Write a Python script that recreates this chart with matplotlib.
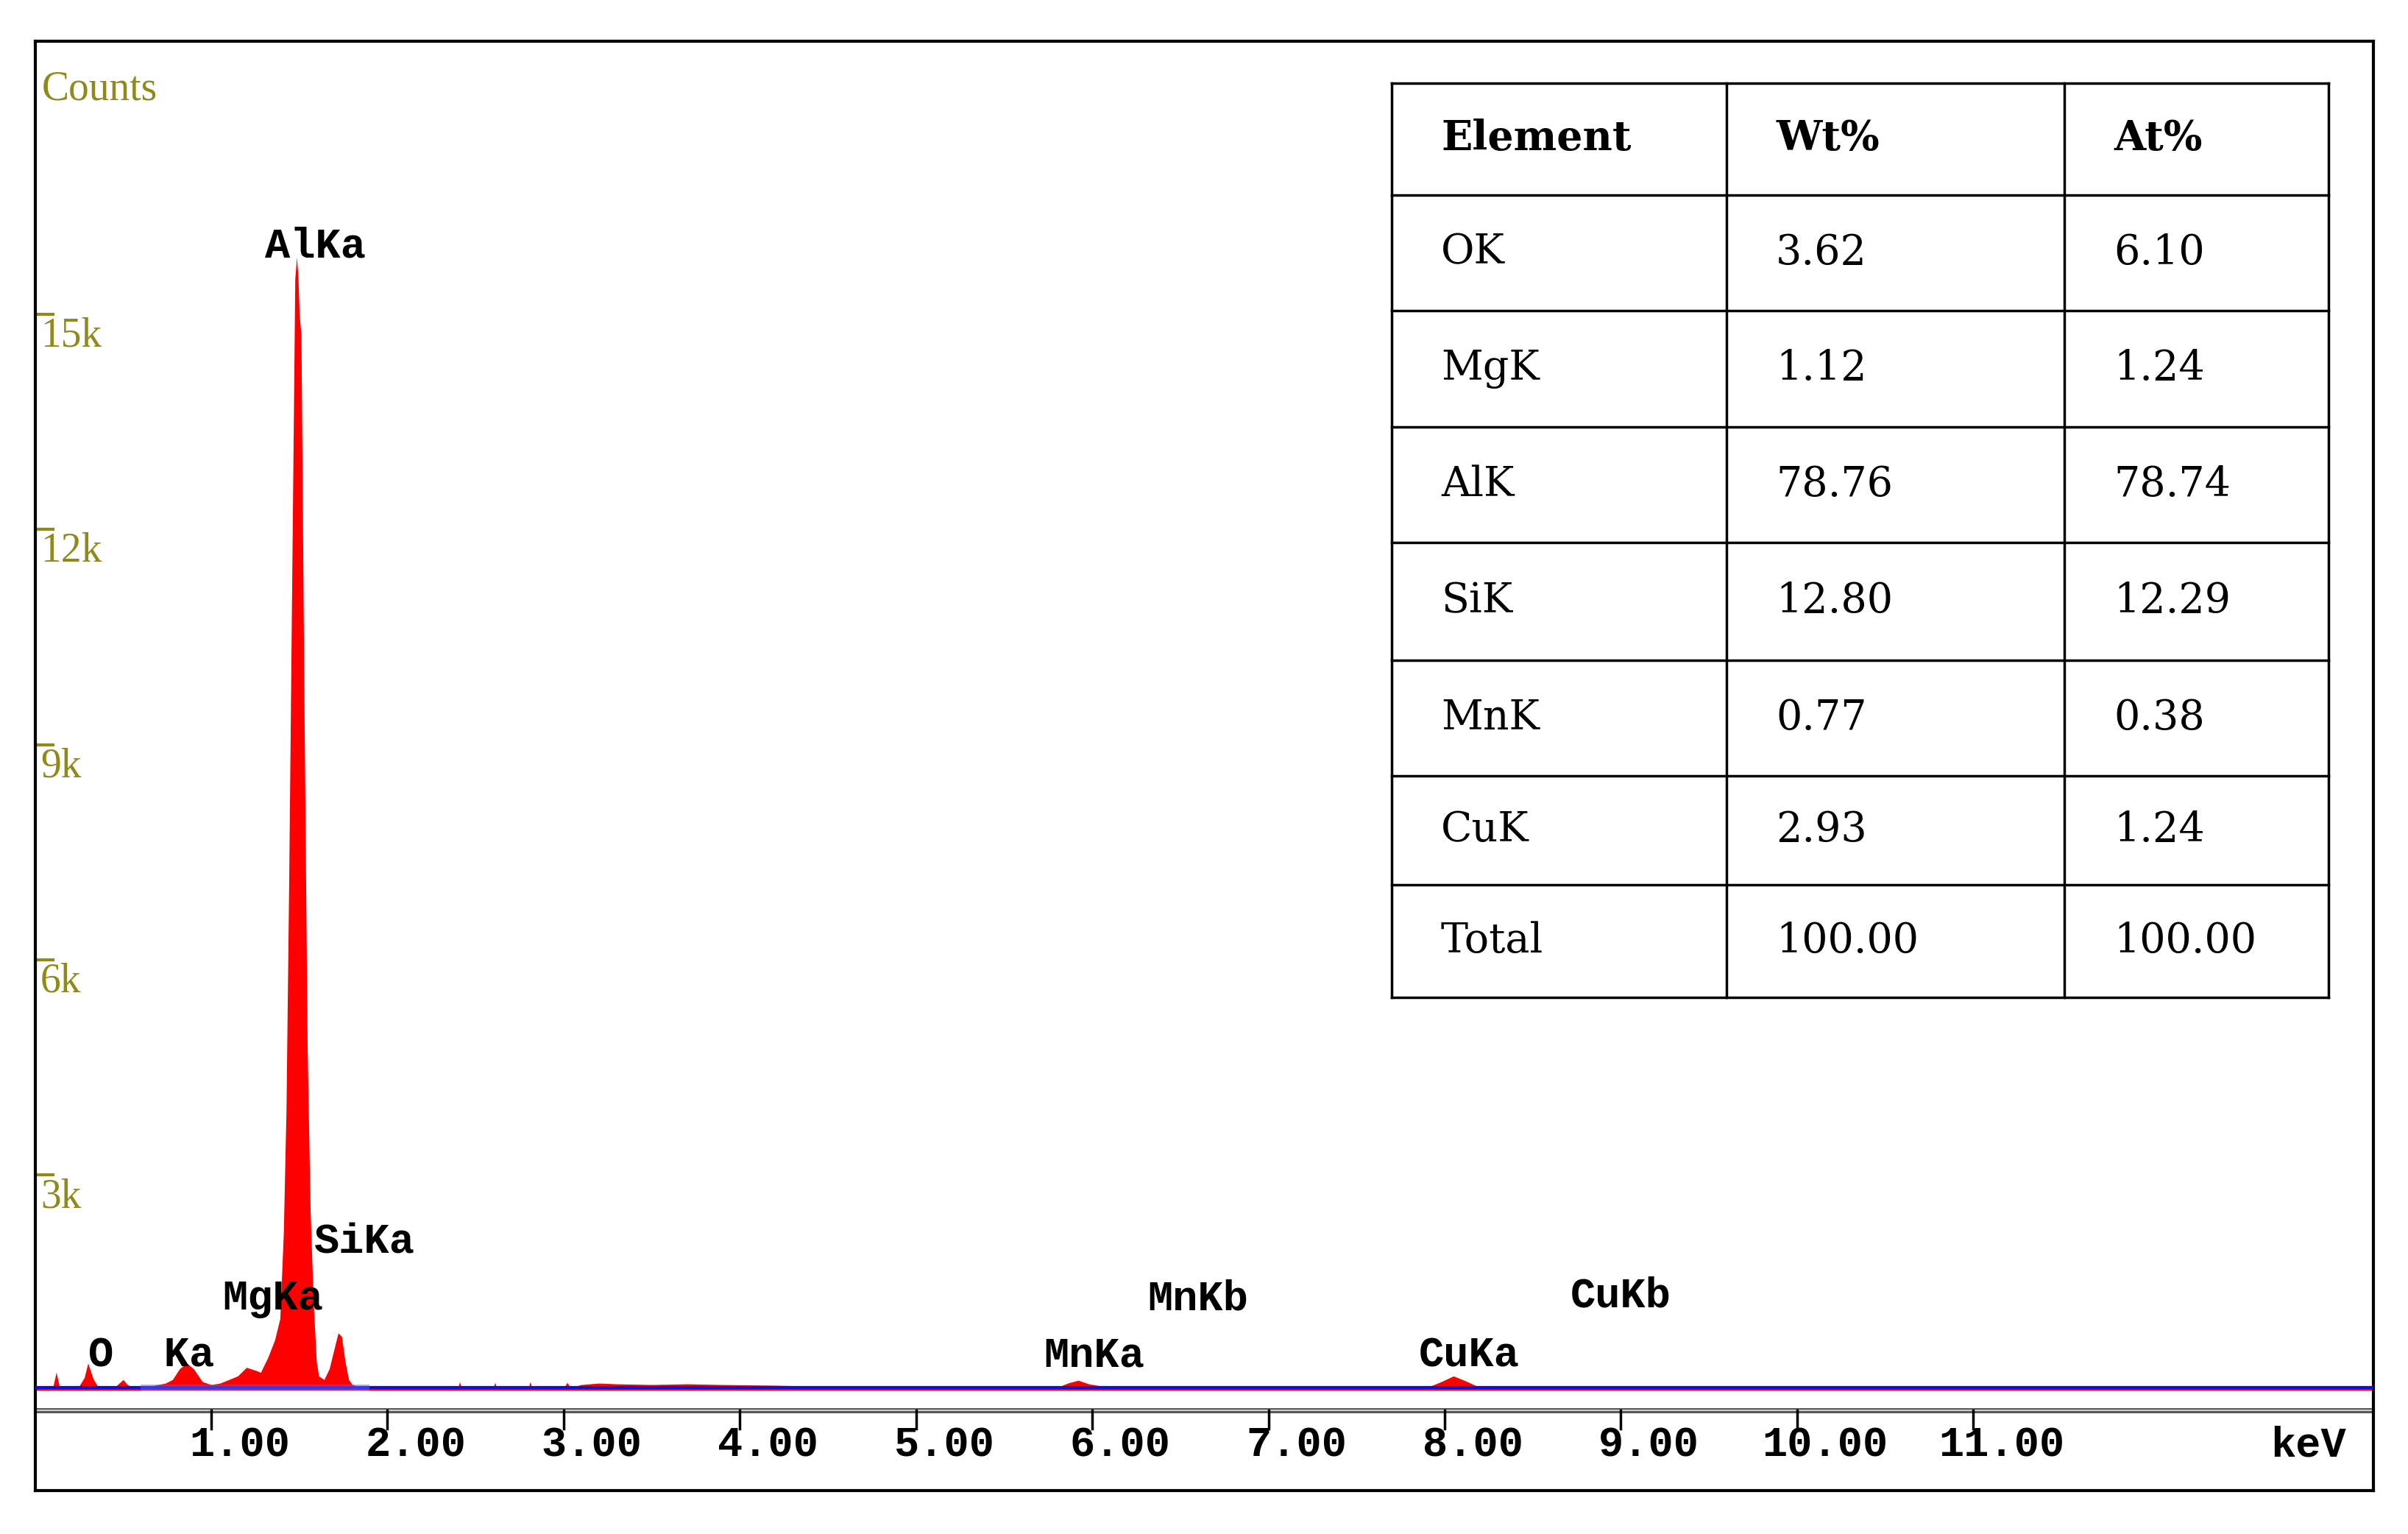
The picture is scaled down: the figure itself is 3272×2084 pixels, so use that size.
import matplotlib
matplotlib.use("Agg")
import matplotlib.pyplot as plt
import numpy as np

# spectrum (keV, counts)
energy = [0.00, 0.10, 0.12, 0.14, 0.20, 0.25, 0.28, 0.30, 0.33, 0.36, 0.40, 0.45, 0.50, 0.52, 0.55, 0.58,
          0.62, 0.66, 0.70, 0.74, 0.78, 0.82, 0.86, 0.90, 0.95, 1.00, 1.05, 1.10, 1.15, 1.20, 1.25, 1.28,
          1.32, 1.36, 1.39, 1.41, 1.425, 1.44, 1.458, 1.475, 1.485, 1.493, 1.50, 1.51, 1.527, 1.545,
          1.562, 1.58, 1.597, 1.61, 1.64, 1.67, 1.70, 1.72, 1.74, 1.76, 1.78, 1.80, 1.84, 1.90, 2.00,
          2.40, 2.41, 2.42, 2.60, 2.61, 2.62, 2.80, 2.81, 2.82, 3.00, 3.02, 3.04, 3.10, 3.20, 3.30, 3.50,
          3.70, 3.90, 4.20, 4.40, 4.60, 5.80, 5.86, 5.92, 5.98, 6.10, 7.90, 7.98, 8.05, 8.12, 8.20, 13.3]
counts = [30, 30, 250, 40, 40, 60, 180, 380, 160, 40, 40, 40, 150, 90, 40, 40,
          50, 60, 80, 100, 150, 300, 380, 300, 120, 80, 100, 150, 200, 320, 280, 250,
          450, 700, 1000, 2200, 3900, 7000, 11400, 15500, 15800, 15500, 15000, 14700, 9600, 4800,
          2500, 1200, 400, 200, 150, 300, 600, 800, 750, 400, 150, 80, 50, 40, 35,
          35, 120, 35, 35, 110, 35, 35, 120, 35, 35, 110, 35, 80, 100, 90, 80,
          90, 80, 70, 60, 40, 40, 100, 140, 90, 40, 40, 120, 200, 130, 40, 35]

x_ticks = [1, 2, 3, 4, 5, 6, 7, 8, 9, 10, 11]
x_tick_labels = ["1.00", "2.00", "3.00", "4.00", "5.00", "6.00", "7.00", "8.00", "9.00", "10.00", "11.00"]
y_ticks = [3000, 6000, 9000, 12000, 15000]
y_tick_labels = ["3k", "6k", "9k", "12k", "15k"]

peak_labels = ["AlKa", "SiKa", "MgKa", "O  Ka", "MnKa", "MnKb", "CuKa", "CuKb"]
peak_x = [1.59, 1.87, 1.35, 0.66, 6.01, 6.60, 8.14, 9.00]
peak_y = [15950, 2080, 1280, 490, 490, 1280, 490, 1320]

table_cols = ["Element", "Wt%", "At%"]
elements = ["OK", "MgK", "AlK", "SiK", "MnK", "CuK", "Total"]
wt = ["3.62", "1.12", "78.76", "12.80", "0.77", "2.93", "100.00"]
at = ["6.10", "1.24", "78.74", "12.29", "0.38", "1.24", "100.00"]

W, H = 1568, 998.5
fig = plt.figure(figsize=(32.73, 20.84), dpi=100)
L, R, T, B = 22.8, 1545, 27, 970
ax = fig.add_axes([L / W, 1 - B / H, (R - L) / W, (B - T) / H])
kpx = 114.7
ax.set_xlim(0, (R - L) / kpx)
cpp = 1000 / 46.7
ax.set_ylim(-(B - 905) * cpp, (905 - T) * cpp)
for s in ax.spines.values():
    s.set_linewidth(3)
ax.set_xticks([]); ax.set_yticks([])

ax.fill_between(energy, counts, 0, color="#ff0000", lw=0, zorder=2)
ax.plot([0, 13.3], [40, 40], color="#1010d0", lw=3, zorder=3)
ax.fill_between([0.6, 1.9], [0, 0], [80, 80], color="#6060ff", alpha=0.5, lw=0, zorder=3)
ax.axhline(-(918 - 905) * cpp, color="#555555", lw=5, zorder=1)
ax.axhline(-(918 - 905) * cpp, color="#cccccc", lw=1.5, zorder=1)

mono = dict(family="Liberation Mono", weight="bold", fontsize=41, color="black")
for t, lab in zip(x_ticks, x_tick_labels):
    ax.plot([t, t], [-(918 - 905) * cpp, -(930 - 905) * cpp], color="black", lw=2.5, clip_on=False)
    ax.text(t + 0.16, -(941 - 905) * cpp, lab, ha="center", va="center", **mono)
ax.text(12.9, -(941 - 905) * cpp, "keV", ha="center", va="center", **mono)

olive = "#8f8a1a"
for t, lab in zip(y_ticks, y_tick_labels):
    ax.plot([0, 0.1], [t, t], color=olive, lw=3)
    ax.text(0.03, t - 40, lab, ha="left", va="top", family="Liberation Serif", fontsize=40, color=olive)
ax.text(0.04, (905 - 58) * cpp, "Counts", ha="left", va="center", family="Liberation Serif", fontsize=40, color=olive)

for lab, px, py in zip(peak_labels, peak_x, peak_y):
    ax.text(px, py, lab, ha="center", va="center", **mono)

# table overlay in display-pixel coords (of 1568-wide reference)
ov = fig.add_axes([0, 0, 1, 1])
ov.set_xlim(0, W); ov.set_ylim(H, 0); ov.axis("off")
cx = [906, 1124, 1344, 1516]
ry = [54, 127, 202, 278, 353, 430, 505, 576, 649]
for x in cx:
    ov.plot([x, x], [ry[0], ry[-1]], color="black", lw=2.5)
for y in ry:
    ov.plot([cx[0], cx[-1]], [y, y], color="black", lw=2.5)
serif = dict(family="DejaVu Serif", fontsize=40, color="black", va="center", ha="left")
for j, c in enumerate(table_cols):
    ov.text(cx[j] + 32, (ry[0] + ry[1]) / 2, c, weight="bold", **serif)
for i in range(len(elements)):
    yc = (ry[i + 1] + ry[i + 2]) / 2
    for j, v in enumerate([elements[i], wt[i], at[i]]):
        ov.text(cx[j] + 32, yc, v, **serif)

fig.savefig("out.png", dpi=100, facecolor="white")
